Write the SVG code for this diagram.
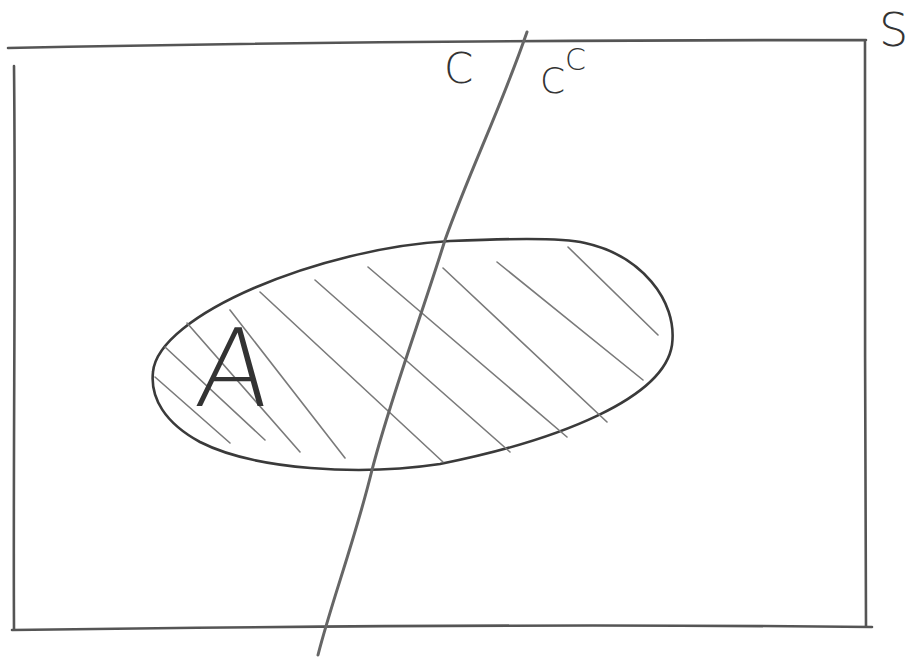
<svg xmlns="http://www.w3.org/2000/svg" width="910" height="661" viewBox="0 0 910 661">
<style>
.pen{fill:none;stroke-linecap:round;stroke-linejoin:round}
.box{stroke:#555;stroke-width:2.6}
.cut{stroke:#666;stroke-width:3}
.ell{stroke:#3a3a3a;stroke-width:2.6}
.hatch{stroke:#7a7a7a;stroke-width:1.6}
.lbl{font-family:"DejaVu Sans","Liberation Sans",sans-serif;fill:#333;font-weight:300}
</style>
<rect width="910" height="661" fill="#ffffff"/>
<g id="S">
<path class="pen box" d="M8,48 C200,44 500,40 866,40 M14,66 C16,250 13,450 14,630 M12,630 C300,626 600,624 872,627 M865,40 C866,200 864,450 866,626"/>
<text class="lbl" x="879" y="46" font-size="46">S</text>
</g>
<g id="A">
<path class="pen ell" d="M153,372 C158,315 320,248 450,241 C500,239 560,237 585,243 C640,255 678,300 672,345 C664,398 560,440 440,464 C360,476 255,470 200,442 C165,423 150,398 153,372 Z"/>
<g class="pen hatch">
<path d="M155,377 L230,443"/>
<path d="M165,347 L265,440"/>
<path d="M187,323 L300,452"/>
<path d="M230,310 L345,458"/>
<path d="M260,292 L443,462"/>
<path d="M315,280 L510,452"/>
<path d="M368,267 L567,437"/>
<path d="M443,268 L607,422"/>
<path d="M497,262 L643,380"/>
<path d="M568,247 L658,335"/>
</g>
<text class="lbl" x="196" y="406" font-size="108" transform="skewX(-6) translate(40,0)">A</text>
</g>
<g id="C">
<text class="lbl" x="444" y="83" font-size="42">C</text>
</g>
<g id="Cc">
<text class="lbl" x="540" y="93" font-size="36">C</text>
<text class="lbl" x="565" y="70" font-size="30">C</text>
</g>
<g id="connectors">
<path class="pen cut" d="M527,32 C500,110 470,170 445,240 C420,320 390,400 372,470 C355,540 332,600 318,655"/>
</g>
</svg>
